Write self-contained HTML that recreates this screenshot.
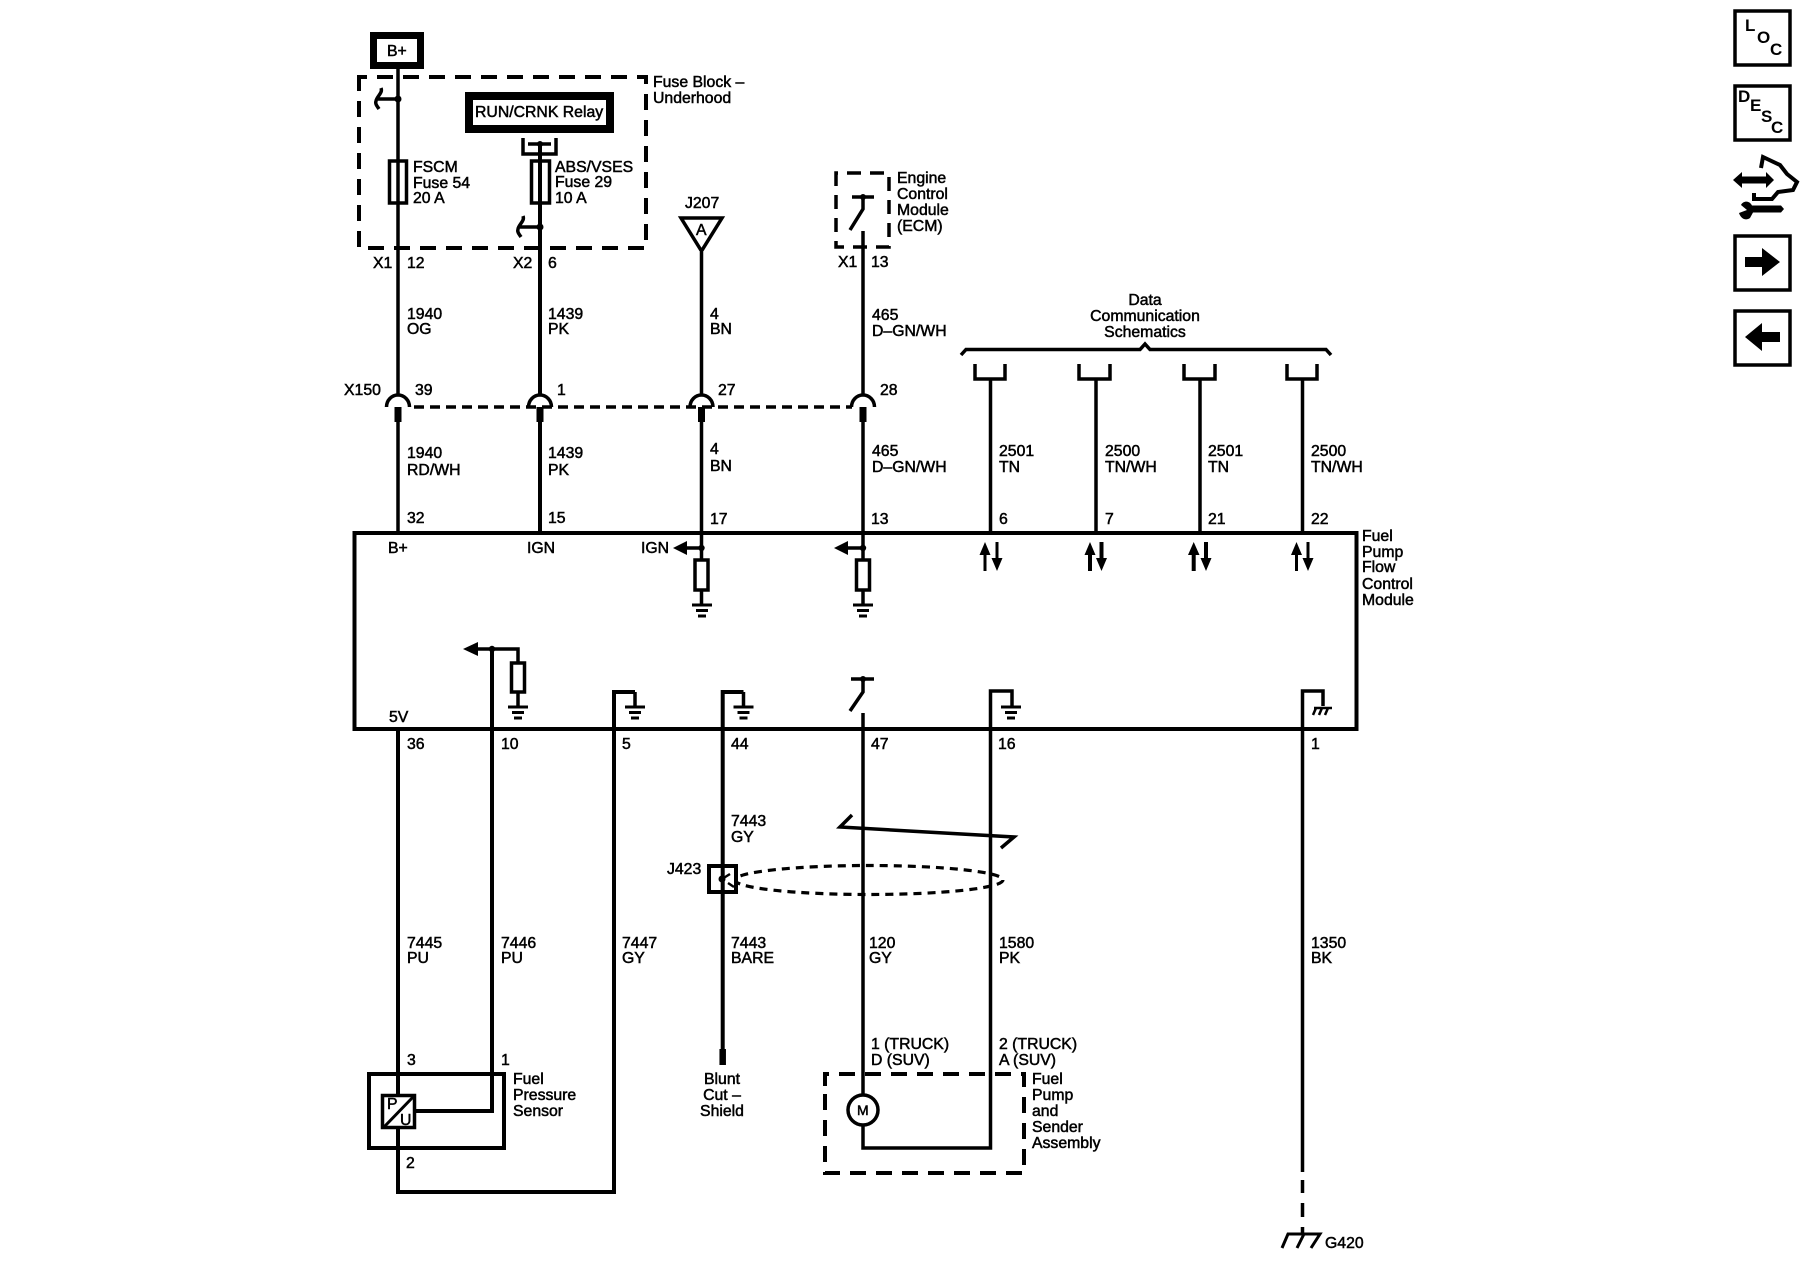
<!DOCTYPE html>
<html><head><meta charset="utf-8"><style>
html,body{margin:0;padding:0;background:#fff}
svg{display:block}
text{font-family:"Liberation Sans",sans-serif;font-size:15.8px;fill:#000;stroke:#000;stroke-width:.5px}
.b{font-weight:bold;font-size:17px;stroke:none}
.w{fill:none;stroke:#000;stroke-width:3.5}
.d{fill:none;stroke:#000;stroke-width:4;stroke-dasharray:16 10}
.g{stroke:#000;stroke-width:3}
</style></head><body>
<svg width="1800" height="1280" viewBox="0 0 1800 1280" xmlns="http://www.w3.org/2000/svg">
<defs>
<g id="gnd" class="g"><line x1="-10" x2="10" y1="0" y2="0"/><line x1="-6" x2="6" y1="5.5" y2="5.5"/><line x1="-4" x2="4" y1="11" y2="11"/></g>
<path id="conn" d="M-11.5,12 A11.5,12 0 0 1 11.5,12" fill="none" stroke="#000" stroke-width="3.5"/>
</defs>
<rect width="1800" height="1280" fill="#fff"/>

<!-- top section -->
<rect x="373.500" y="35.500" width="47" height="30" fill="#fff" stroke="#000" stroke-width="7"/>
<text x="387" y="56">B+</text>
<path class="d" d="M359,85V77H646V248H359V77"/>
<text x="653" y="87">Fuse Block –</text>
<text x="653" y="103">Underhood</text>
<path class="w" d="M398,69V395"/>
<circle cx="398" cy="99" r="3.500"/>
<path class="w" d="M398,99H378M381,88C383,93 377,96 376,101C375,104 377,106 379,109"/>
<rect x="469" y="96" width="141" height="33" fill="#fff" stroke="#000" stroke-width="8"/>
<text x="475" y="117">RUN/CRNK Relay</text>
<path class="w" d="M523,138V154H556V138M528,144H551"/>
<circle cx="540" cy="144" r="3"/>
<path d="M540,144V395" fill="none" stroke="#000" stroke-width="4"/>
<rect x="389.500" y="161" width="17" height="42" fill="none" stroke="#000" stroke-width="3.500"/>
<rect x="531.500" y="161" width="18" height="42" fill="none" stroke="#000" stroke-width="3.500"/>
<text x="413" y="172">FSCM</text><text x="413" y="188">Fuse 54</text><text x="413" y="203">20 A</text>
<text x="555" y="172">ABS/VSES</text><text x="555" y="187">Fuse 29</text><text x="555" y="203">10 A</text>
<circle cx="540" cy="227" r="3.500"/>
<path class="w" d="M540,227H520M523,216C525,221 519,224 518,229C517,232 519,234 521,237"/>
<text x="685" y="208">J207</text>
<path class="w" d="M681,218H722L701.500,251Z"/>
<text x="696" y="235">A</text>
<path class="w" d="M701.500,252V395"/>
<text x="373" y="268">X1</text><text x="407" y="268">12</text>
<text x="513" y="268">X2</text><text x="548" y="268">6</text>
<path class="d" d="M836,185V173H889V247H836V173" style="stroke-dasharray:14 9;stroke-width:3.500"/>
<path class="w" d="M852,197H874M863,197V209L850,230M863,231V395"/>
<circle cx="863" cy="197" r="3"/>
<text x="897" y="183">Engine</text><text x="897" y="199">Control</text><text x="897" y="215">Module</text><text x="897" y="231">(ECM)</text>
<text x="838" y="267">X1</text><text x="871" y="267">13</text>
<text x="407" y="319">1940</text><text x="407" y="334">OG</text>
<text x="548" y="319">1439</text><text x="548" y="334">PK</text>
<text x="710" y="319">4</text><text x="710" y="334">BN</text>
<text x="872" y="320">465</text><text x="872" y="336">D–GN/WH</text>

<!-- data comm -->
<text x="1145" y="305" text-anchor="middle">Data</text>
<text x="1145" y="321" text-anchor="middle">Communication</text>
<text x="1145" y="337" text-anchor="middle">Schematics</text>
<path class="w" d="M961,355L966,349.500H1140L1145,344L1150,349.500H1326L1331,355" stroke-width="4"/>
<path class="w" d="M975,364V379H1005V364M1079,364V379H1110V364M1184,364V379H1215V364M1287,364V379H1317V364"/>
<path class="w" d="M990.500,379V533M1096,379V533M1200,379V533M1302.500,379V533"/>

<!-- X150 -->
<text x="344" y="395">X150</text><text x="415" y="395">39</text><text x="557" y="395">1</text><text x="718" y="395">27</text><text x="880" y="395">28</text>
<use href="#conn" x="398" y="395"/><use href="#conn" x="540" y="395"/><use href="#conn" x="701.500" y="395"/><use href="#conn" x="863" y="395"/>
<path d="M414,407H852" fill="none" stroke="#000" stroke-width="3.500" stroke-dasharray="10 6"/>
<path d="M398,407V422M540,407V422M701.500,407V422M863,407V422" fill="none" stroke="#000" stroke-width="7"/>
<path class="w" d="M398,422V533M701.500,422V533M863,422V533"/>
<path d="M540,422V533" fill="none" stroke="#000" stroke-width="4"/>
<text x="407" y="458">1940</text><text x="407" y="475">RD/WH</text>
<text x="548" y="458">1439</text><text x="548" y="475">PK</text>
<text x="710" y="454">4</text><text x="710" y="471">BN</text>
<text x="872" y="456">465</text><text x="872" y="472">D–GN/WH</text>
<text x="999" y="456">2501</text><text x="999" y="472">TN</text>
<text x="1105" y="456">2500</text><text x="1105" y="472">TN/WH</text>
<text x="1208" y="456">2501</text><text x="1208" y="472">TN</text>
<text x="1311" y="456">2500</text><text x="1311" y="472">TN/WH</text>
<text x="407" y="523">32</text><text x="548" y="523">15</text><text x="710" y="524">17</text><text x="871" y="524">13</text>
<text x="999" y="524">6</text><text x="1105" y="524">7</text><text x="1208" y="524">21</text><text x="1311" y="524">22</text>

<!-- module -->
<rect x="354.500" y="533" width="1002" height="196" fill="none" stroke="#000" stroke-width="4"/>
<text x="1362" y="541">Fuel</text><text x="1362" y="557">Pump</text><text x="1362" y="572">Flow</text><text x="1362" y="589">Control</text><text x="1362" y="605">Module</text>
<text x="388" y="553">B+</text><text x="527" y="553">IGN</text><text x="641" y="553">IGN</text>

<path class="w" d="M701.500,533V559M701.500,590V604M685,548H701.500"/>
<circle cx="701.500" cy="548" r="3.200"/>
<path d="M673,548L687,541V555Z"/>
<rect x="695" y="560" width="13" height="30" fill="none" stroke="#000" stroke-width="3.500"/>
<use href="#gnd" x="702" y="605"/>
<path class="w" d="M863,559V533M863,590V604M845,548H863"/>
<circle cx="863" cy="548" r="3.200"/>
<path d="M834,548L848,541V555Z"/>
<rect x="856.500" y="560" width="13" height="30" fill="none" stroke="#000" stroke-width="3.500"/>
<use href="#gnd" x="863" y="605"/>

<!-- data arrows -->
<g fill="none" stroke="#000" stroke-width="3">
<path d="M985,550V571M997,542V563"/><path d="M1296.500,550V571M1308,542V563"/>
</g>
<g fill="none" stroke="#000" stroke-width="4">
<path d="M1090,550V571M1101.500,542V563"/><path d="M1193.700,550V571M1206,542V563"/>
</g>
<path d="M985,542L979.500,555H990.500ZM997,571L991.500,558H1002.500Z"/>
<path d="M1090,542L1084.500,555H1095.500ZM1101.500,571L1096,558H1107Z"/>
<path d="M1193.700,542L1188,555H1199.500ZM1206,571L1200.500,558H1211.500Z"/>
<path d="M1296.500,542L1291,555H1302ZM1308,571L1302.500,558H1313.500Z"/>

<!-- lower module -->
<path d="M492,649V1111H416" fill="none" stroke="#000" stroke-width="4"/>
<path class="w" d="M475,649H518V662M518,692V706"/>
<circle cx="492" cy="649" r="3.200"/>
<path d="M463,649L478,642V656Z"/>
<rect x="511.500" y="663" width="13" height="29" fill="none" stroke="#000" stroke-width="3.500"/>
<use href="#gnd" x="518" y="707"/>
<text x="389" y="722">5V</text>
<path d="M635,692H614V1192H398V729" fill="none" stroke="#000" stroke-width="4"/>
<path class="w" d="M635,692V706"/>
<use href="#gnd" x="635" y="707"/>
<path d="M743.500,692H722.700V1050" fill="none" stroke="#000" stroke-width="4"/>
<path class="w" d="M743.500,692V706"/>
<use href="#gnd" x="743.500" y="707"/>
<path d="M722.700,1049V1065" fill="none" stroke="#000" stroke-width="6.500"/>
<path class="w" d="M851,679H874M863,679V692L850,711M863,713V1148H990.500V691H1012V706"/>
<circle cx="863" cy="679" r="3"/>
<use href="#gnd" x="1011" y="707"/>
<path class="w" d="M1302.500,1172V691H1323V706"/>
<path fill="none" stroke="#000" stroke-width="2.500" d="M1314,708H1332M1316,708L1313,715M1322,708L1319,715M1328,708L1325,715"/>
<text x="407" y="749">36</text><text x="501" y="749">10</text><text x="622" y="749">5</text><text x="731" y="749">44</text><text x="871" y="749">47</text><text x="998" y="749">16</text><text x="1311" y="749">1</text>

<!-- shield -->
<text x="731" y="826">7443</text><text x="731" y="842">GY</text>
<path class="w" d="M852,815L840,827L1014,837L1001,848" stroke-width="3.500"/>
<ellipse cx="869" cy="880" rx="134" ry="14.500" fill="none" stroke="#000" stroke-width="3.200" stroke-dasharray="8 6"/>
<rect x="709" y="866" width="27" height="26" fill="#fff" stroke="#000" stroke-width="4"/>
<path d="M722.700,866V892" stroke="#000" stroke-width="4"/>
<circle cx="722" cy="879" r="3.500"/>
<path d="M722,879L730,874M728,883L734,887" stroke="#000" stroke-width="2.500"/>
<text x="667" y="874">J423</text>

<text x="407" y="948">7445</text><text x="407" y="963">PU</text>
<text x="501" y="948">7446</text><text x="501" y="963">PU</text>
<text x="622" y="948">7447</text><text x="622" y="963">GY</text>
<text x="731" y="948">7443</text><text x="731" y="963">BARE</text>
<text x="869" y="948">120</text><text x="869" y="963">GY</text>
<text x="999" y="948">1580</text><text x="999" y="963">PK</text>
<text x="1311" y="948">1350</text><text x="1311" y="963">BK</text>

<text x="407" y="1065">3</text><text x="501" y="1065">1</text>
<rect x="369" y="1074" width="135" height="74" fill="none" stroke="#000" stroke-width="4"/>
<rect x="382.500" y="1095.500" width="32" height="32" fill="#fff" stroke="#000" stroke-width="3.500"/>
<path d="M384,1127L414,1096" stroke="#000" stroke-width="3"/>
<text x="387" y="1109">P</text><text x="400" y="1125">U</text>
<path d="M398,729V1095M398,1127V1192" fill="none" stroke="#000" stroke-width="3.500"/>
<text x="406" y="1168">2</text>
<text x="513" y="1084">Fuel</text><text x="513" y="1100">Pressure</text><text x="513" y="1116">Sensor</text>
<text x="722" y="1084" text-anchor="middle">Blunt</text><text x="722" y="1100" text-anchor="middle">Cut –</text><text x="722" y="1116" text-anchor="middle">Shield</text>

<!-- pump -->
<text x="871" y="1049">1 (TRUCK)</text><text x="871" y="1065">D (SUV)</text>
<text x="999" y="1049">2 (TRUCK)</text><text x="999" y="1065">A (SUV)</text>
<path class="d" d="M825,1086V1074H1024V1173H825V1074"/>
<ellipse cx="863" cy="1110" rx="15" ry="15" fill="#fff" stroke="#000" stroke-width="3.500"/>
<text x="857" y="1115" style="font-size:14px">M</text>
<text x="1032" y="1084">Fuel</text><text x="1032" y="1100">Pump</text><text x="1032" y="1116">and</text><text x="1032" y="1132">Sender</text><text x="1032" y="1148">Assembly</text>

<!-- G420 -->
<path class="w" d="M1302.500,1180V1193M1302.500,1203V1217M1302.500,1227V1234" stroke-width="3"/>
<path fill="none" stroke="#000" stroke-width="3" d="M1282,1248L1288,1234H1320L1311,1248M1304,1234L1297,1248"/>
<text x="1325" y="1248">G420</text>

<!-- side icons -->
<rect x="1735" y="11" width="55" height="54" fill="#fff" stroke="#000" stroke-width="3.500"/>
<text class="b" x="1745" y="31">L</text><text class="b" x="1757" y="43">O</text><text class="b" x="1770" y="55">C</text>
<rect x="1735" y="86" width="55" height="54" fill="#fff" stroke="#000" stroke-width="3.500"/>
<text class="b" x="1738" y="102">D</text><text class="b" x="1750" y="111">E</text><text class="b" x="1761" y="122">S</text><text class="b" x="1771" y="133">C</text>
<path d="M1733,180L1742,172V176.500H1766V172L1774,180L1766,188V183.500H1742V188Z"/>
<path fill="none" stroke="#000" stroke-width="4" d="M1761,168L1763,157L1780,165L1787,174L1797,182L1793,190L1778,192L1772,199H1754V193"/>
<path d="M1752,205.500H1781L1784,209L1781,212.500H1753L1750,218C1746,221 1741,219 1739,213L1747,210L1741,205C1743,201 1749,200 1752,205.500Z"/>
<rect x="1735" y="236" width="55" height="54" fill="#fff" stroke="#000" stroke-width="3.500"/>
<path d="M1745,257H1762V248L1780,262L1762,276V267H1745Z"/>
<rect x="1735" y="311" width="55" height="54" fill="#fff" stroke="#000" stroke-width="3.500"/>
<path d="M1745,337L1762,323V332H1780V342H1762V351Z"/>
</svg>
</body></html>
